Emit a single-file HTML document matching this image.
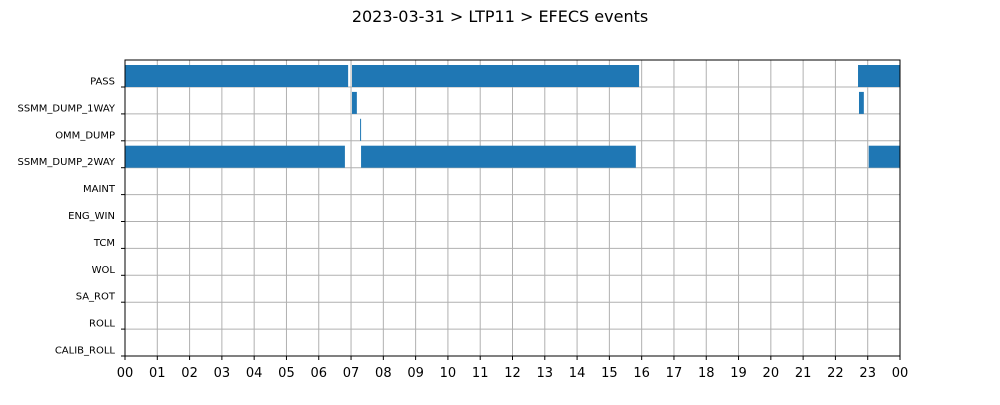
<!DOCTYPE html>
<html><head><meta charset="utf-8"><style>
body{margin:0;background:#fff;font-family:"Liberation Sans","DejaVu Sans",sans-serif}
</style></head><body>
<svg id="chart" width="1000" height="400" xmlns="http://www.w3.org/2000/svg">
<text x="500" y="22" text-anchor="middle" font-size="16" font-family="DejaVu Sans, Liberation Sans, sans-serif">2023-03-31 &gt; LTP11 &gt; EFECS events</text>
<g id="grid"></g><g id="bars"></g><g id="axes"></g>
</svg>
<script>
const categories=["PASS","SSMM_DUMP_1WAY","OMM_DUMP","SSMM_DUMP_2WAY","MAINT","ENG_WIN","TCM","WOL","SA_ROT","ROLL","CALIB_ROLL"];
const xTicks=["00","01","02","03","04","05","06","07","08","09","10","11","12","13","14","15","16","17","18","19","20","21","22","23","00"];
const passSegs=[[0,6.91],[7.03,15.92],[22.70,24]];
const ssmm1Segs=[[7.03,7.18],[22.73,22.88]];
const ommSegs=[[7.28,7.31]];
const ssmm2Segs=[[0,6.81],[7.31,15.82],[23.03,24]];
const series=[passSegs,ssmm1Segs,ommSegs,ssmm2Segs,[],[],[],[],[],[],[]];
const NS="http://www.w3.org/2000/svg";
const L=125,R=900,T=60,B=356,rowH=(B-87)/10;
const x=h=>L+(R-L)*h/24;
const tickY=i=>87+rowH*i;
function mk(tag,attrs,parent){const e=document.createElementNS(NS,tag);for(const k in attrs)e.setAttribute(k,attrs[k]);parent.appendChild(e);return e;}
const grid=document.getElementById('grid'),bars=document.getElementById('bars'),axes=document.getElementById('axes');
xTicks.forEach((t,i)=>{
  const gl=mk('line',{x1:x(i),x2:x(i),y1:T,y2:B,stroke:'#b0b0b0','stroke-width':1},grid);
  
  
  const tk=mk('line',{x1:x(i),x2:x(i),y1:B,y2:B+4,stroke:'#000'},axes);
  
  
  const tx=mk('text',{x:x(i),y:B+21,'text-anchor':'middle','font-size':13,'font-family':'DejaVu Sans, Liberation Sans, sans-serif'},axes);
  tx.textContent=t;
  
  
});
categories.forEach((c,i)=>{
  const y=tickY(i);
  const gl=mk('line',{x1:L,x2:R,y1:y,y2:y,stroke:'#b0b0b0','stroke-width':1},grid);
  
  
  const tk=mk('line',{x1:L-4,x2:L,y1:y,y2:y,stroke:'#000'},axes);
  
  
  const tx=mk('text',{x:115,y:y-2.5,'text-anchor':'end','font-size':10,'font-family':'DejaVu Sans, Liberation Sans, sans-serif'},axes);
  tx.textContent=c;
  
  
  series[i].forEach(s=>{
    const r=mk('rect',{x:x(s[0]),y:y-22,width:Math.max(1,x(s[1])-x(s[0])),height:22,fill:'#1f77b4'},bars);
    
    
  });
});
const fr=mk('rect',{x:L,y:T,width:R-L,height:B-T,fill:'none',stroke:'#000','stroke-width':1},axes);


</script>
</body></html>
